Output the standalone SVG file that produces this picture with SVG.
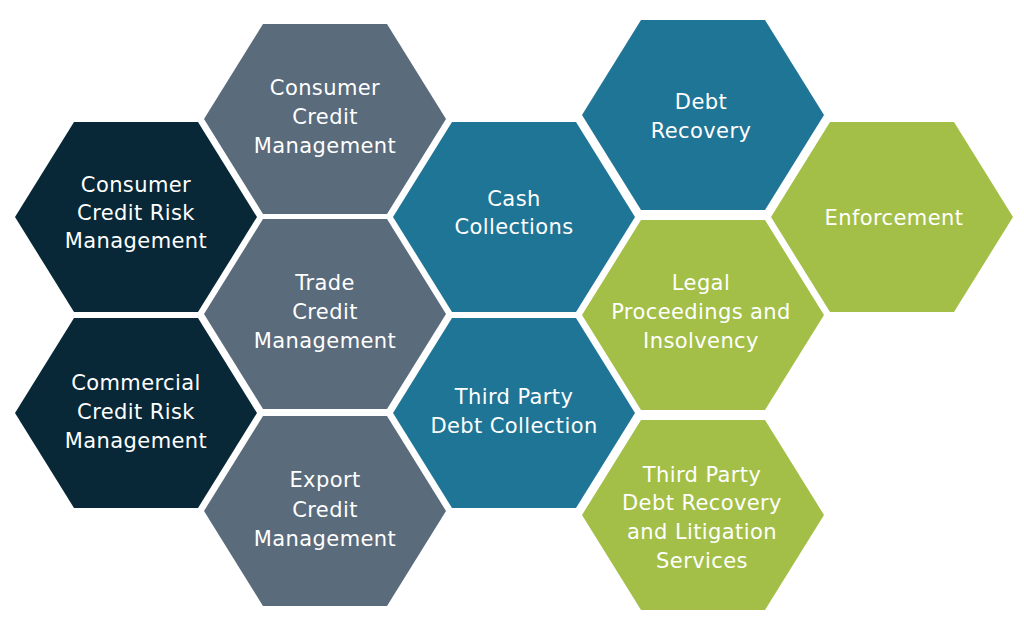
<svg xmlns="http://www.w3.org/2000/svg" xmlns:xlink="http://www.w3.org/1999/xlink" width="1024" height="629" viewBox="0 0 1024 629">
<defs>
<polygon id="hex" points="-121,0 -62,-95 62,-95 121,0 62,95 -62,95"/>
</defs>
<style>
.dark{fill:#082838}
.gray{fill:#5a6b7b}
.blue{fill:#1f7596}
.green{fill:#a3bf47}
text{font-family:"DejaVu Sans","Liberation Sans",sans-serif;font-size:21px;letter-spacing:0.4px;fill:#ffffff;text-anchor:middle}
</style>
<rect width="1024" height="629" fill="#ffffff"/>
<g id="consumer-credit-risk">
<use href="#hex" x="136" y="217" class="dark"/>
<text x="136" y="192">Consumer</text>
<text x="136" y="220">Credit Risk</text>
<text x="136" y="248">Management</text>
</g>
<g id="commercial-credit-risk">
<use href="#hex" x="136" y="413" class="dark"/>
<text x="136" y="390">Commercial</text>
<text x="136" y="419">Credit Risk</text>
<text x="136" y="448">Management</text>
</g>
<g id="consumer-credit-mgmt">
<use href="#hex" x="325" y="119" class="gray"/>
<text x="325" y="95">Consumer</text>
<text x="325" y="124">Credit</text>
<text x="325" y="153">Management</text>
</g>
<g id="trade-credit-mgmt">
<use href="#hex" x="325" y="314" class="gray"/>
<text x="325" y="290">Trade</text>
<text x="325" y="319">Credit</text>
<text x="325" y="348">Management</text>
</g>
<g id="export-credit-mgmt">
<use href="#hex" x="325" y="511" class="gray"/>
<text x="325" y="487">Export</text>
<text x="325" y="517">Credit</text>
<text x="325" y="546">Management</text>
</g>
<g id="cash-collections">
<use href="#hex" x="514" y="217" class="blue"/>
<text x="514" y="206">Cash</text>
<text x="514" y="234">Collections</text>
</g>
<g id="third-party-debt-collection">
<use href="#hex" x="514" y="413" class="blue"/>
<text x="514" y="404">Third Party</text>
<text x="514" y="433">Debt Collection</text>
</g>
<g id="debt-recovery">
<use href="#hex" x="703" y="115" class="blue"/>
<text x="701" y="109">Debt</text>
<text x="701" y="138">Recovery</text>
</g>
<g id="legal-proceedings">
<use href="#hex" x="703" y="315" class="green"/>
<text x="701" y="290">Legal</text>
<text x="701" y="319">Proceedings and</text>
<text x="701" y="348">Insolvency</text>
</g>
<g id="third-party-debt-recovery">
<use href="#hex" x="703" y="515" class="green"/>
<text x="702" y="482">Third Party</text>
<text x="702" y="510">Debt Recovery</text>
<text x="702" y="539">and Litigation</text>
<text x="702" y="568">Services</text>
</g>
<g id="enforcement">
<use href="#hex" x="892" y="217" class="green"/>
<text x="894" y="225">Enforcement</text>
</g>
</svg>
